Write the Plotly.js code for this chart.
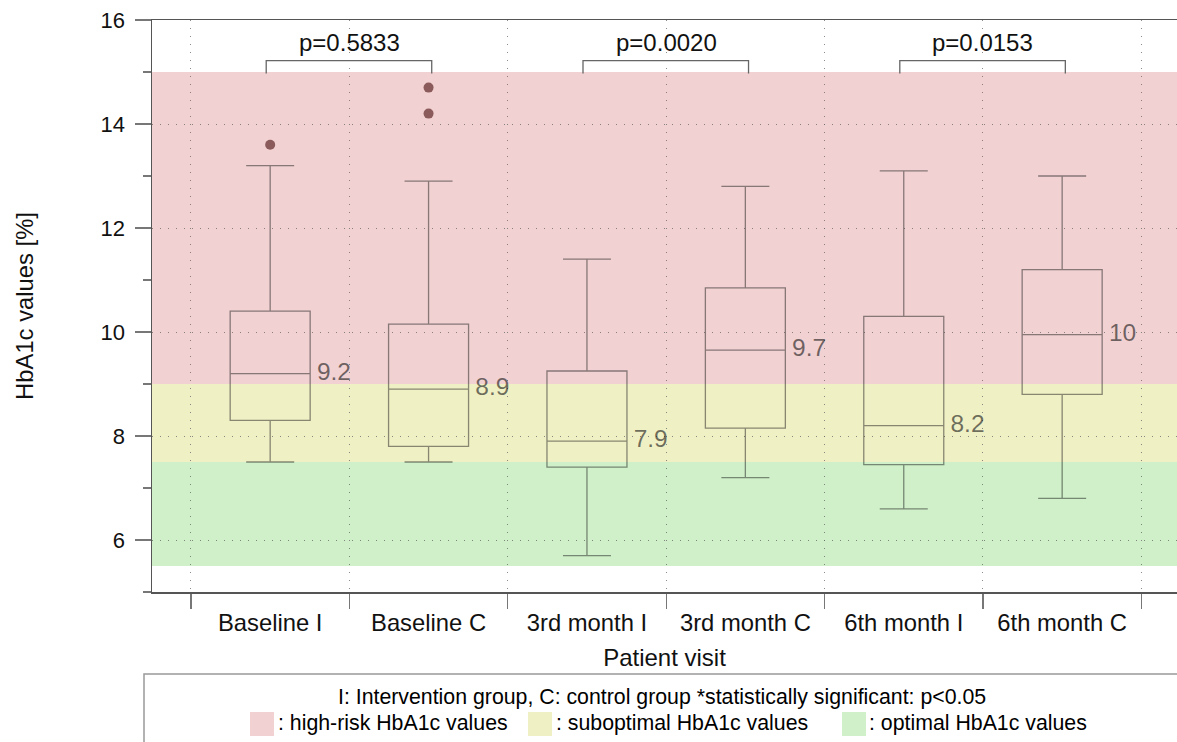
<!DOCTYPE html>
<html>
<head>
<meta charset="utf-8">
<script src="https://cdn.plot.ly/plotly-3.0.1.min.js"></script>
<style>html,body{margin:0;padding:0;background:#fff;overflow:hidden}</style>
</head>
<body>
<div id="chart" style="width:1177px;height:742px"></div>
<script>
// ---- data ----
const categories = ['Baseline I', 'Baseline C', '3rd month I', '3rd month C', '6th month I', '6th month C'];
const positions = [1, 2, 3, 4, 5, 6];
const lowerWhisker = [7.5, 7.5, 5.7, 7.2, 6.6, 6.8];
const q1Values = [8.3, 7.8, 7.4, 8.15, 7.45, 8.8];
const medianValues = [9.2, 8.9, 7.9, 9.65, 8.2, 9.95];
const q3Values = [10.4, 10.15, 9.25, 10.85, 10.3, 11.2];
const upperWhisker = [13.2, 12.9, 11.4, 12.8, 13.1, 13.0];
const medianLabels = ['9.2', '8.9', '7.9', '9.7', '8.2', '10'];
const outlierX = [1, 2, 2];
const outlierY = [13.6, 14.7, 14.2];
const comparisonLeft = [1, 3, 5];
const comparisonRight = [2, 4, 6];
const pValueLabels = ['p=0.5833', 'p=0.0020', 'p=0.0153'];
const bracketBase = 14.97;
const bracketTop = 15.22;
const pLabelY = 15.56;
const bandLow = [9, 7.5, 5.5];
const bandHigh = [15, 9, 7.5];
const bandColors = ['#f1d1d1', '#f0f0c5', '#cff0c8'];
const bandNames = [': high-risk HbA1c values', ': suboptimal HbA1c values', ': optimal HbA1c values'];
const legendNote = 'I: Intervention group, C: control group *statistically significant: p<0.05';
const yMajorTicks = [6, 8, 10, 12, 14, 16];
const yMinorTicks = [5, 7, 9, 11, 13, 15];
const xBoundaryTicks = [0.5, 1.5, 2.5, 3.5, 4.5, 5.5, 6.5];

// ---- style ----
const FONT = 'Liberation Sans, Arial, Helvetica, sans-serif';
const markColor = 'rgba(30,30,30,0.5)';
const gridColor = 'rgba(100,100,100,0.75)';

const traces = [];
traces.push({
  type: 'box',
  x: positions,
  q1: q1Values,
  median: medianValues,
  q3: q3Values,
  lowerfence: lowerWhisker,
  upperfence: upperWhisker,
  width: 0.505,
  whiskerwidth: 0.6,
  boxpoints: false,
  line: {color: markColor, width: 1.3},
  fillcolor: 'rgba(0,0,0,0)',
  hoverinfo: 'skip'
});
traces.push({
  type: 'scatter', mode: 'markers',
  x: outlierX, y: outlierY,
  marker: {color: '#8b5a5a', size: 10},
  hoverinfo: 'skip'
});
traces.push({
  type: 'scatter', mode: 'text',
  x: positions.map(p => p + 0.295), y: medianValues,
  text: medianLabels,
  textposition: 'middle right',
  textfont: {family: FONT, size: 24.5, color: 'rgba(20,20,20,0.6)'},
  hoverinfo: 'skip', cliponaxis: false
});
// brackets
const bx = [], by = [];
comparisonLeft.forEach((a, i) => {
  const b = comparisonRight[i];
  bx.push(a - 0.025, a - 0.025, b + 0.02, b + 0.02, null);
  by.push(bracketBase, bracketTop, bracketTop, bracketBase, null);
});
traces.push({
  type: 'scatter', mode: 'lines', x: bx, y: by,
  line: {color: '#666', width: 1.3}, hoverinfo: 'skip'
});

const shapes = [];
bandLow.forEach((lo, i) => {
  shapes.push({type: 'rect', xref: 'paper', yref: 'y', x0: 0, x1: 1, y0: lo, y1: bandHigh[i],
    fillcolor: bandColors[i], line: {width: 0}, layer: 'below'});
});
// legend frame
const W = 1025, H = 572, L = 152, B = 592;
const px = x => (x - L) / W;
const py = y => (B - y) / H;
shapes.push({type: 'rect', xref: 'paper', yref: 'paper', x0: px(144), x1: px(1200), y0: py(674), y1: py(770),
  line: {color: '#999', width: 1.5}, fillcolor: 'rgba(0,0,0,0)'});
const squareX = [250, 528, 842];
const textX = [276, 554, 867];
squareX.forEach((sx, i) => {
  shapes.push({type: 'rect', xref: 'paper', yref: 'paper', x0: px(sx), x1: px(sx + 24), y0: py(712), y1: py(736),
    fillcolor: bandColors[i], line: {width: 0}});
});

const annotations = [];
comparisonLeft.forEach((a, i) => {
  annotations.push({x: (a + comparisonRight[i]) / 2, y: pLabelY, xref: 'x', yref: 'y', text: pValueLabels[i],
    showarrow: false, font: {family: FONT, size: 24, color: '#111'}, xanchor: 'center', yanchor: 'middle'});
});
annotations.push({x: px(662), y: py(697), xref: 'paper', yref: 'paper', text: legendNote, showarrow: false,
  font: {family: FONT, size: 21.3, color: '#000'}, xanchor: 'center', yanchor: 'middle'});
bandNames.forEach((t, i) => {
  annotations.push({x: px(textX[i]), y: py(723), xref: 'paper', yref: 'paper', text: t, showarrow: false,
    font: {family: FONT, size: 21.3, color: '#000'}, xanchor: 'left', yanchor: 'middle'});
});

const layout = {
  width: 1177, height: 742,
  margin: {l: 152, r: 0, t: 20, b: 150},
  paper_bgcolor: '#fff', plot_bgcolor: '#fff',
  showlegend: false,
  font: {family: FONT, size: 24, color: '#111'},
  xaxis: {
    range: [0.254, 6.725], tickmode: 'array', tickvals: positions, ticktext: categories,
    ticks: '', showgrid: false, zeroline: false, showline: true, linecolor: '#555', linewidth: 1.5,
    mirror: true, automargin: false, tickfont: {family: FONT, size: 23.8, color: '#111'},
    ticklabelstandoff: 9,
    title: {text: 'Patient visit', font: {family: FONT, size: 24, color: '#111'}, standoff: 14},
    minor: {tickmode: 'array', tickvals: xBoundaryTicks, ticks: 'outside', ticklen: 15, tickcolor: '#777',
      tickwidth: 1.2, showgrid: true, gridcolor: gridColor, gridwidth: 1, griddash: '1px,7px'}
  },
  yaxis: {
    range: [5, 16], tickmode: 'array', tickvals: yMajorTicks, ticks: 'outside', ticklen: 16,
    tickcolor: '#777', tickwidth: 1.2, showgrid: true, gridcolor: gridColor, gridwidth: 1, griddash: '1px,7px',
    zeroline: false, showline: true, linecolor: '#555', linewidth: 1.5, automargin: false,
    tickfont: {family: FONT, size: 22, color: '#111'}, ticklabelstandoff: 5,
    title: {text: 'HbA1c values [%]', font: {family: FONT, size: 23.8, color: '#111'}, standoff: 60},
    minor: {tickmode: 'array', tickvals: yMinorTicks, ticks: 'outside', ticklen: 8, tickcolor: '#777',
      tickwidth: 1.2, showgrid: false}
  },
  shapes: shapes,
  annotations: annotations
};

Plotly.newPlot('chart', traces, layout, {displayModeBar: false, staticPlot: true});
</script>
</body>
</html>
